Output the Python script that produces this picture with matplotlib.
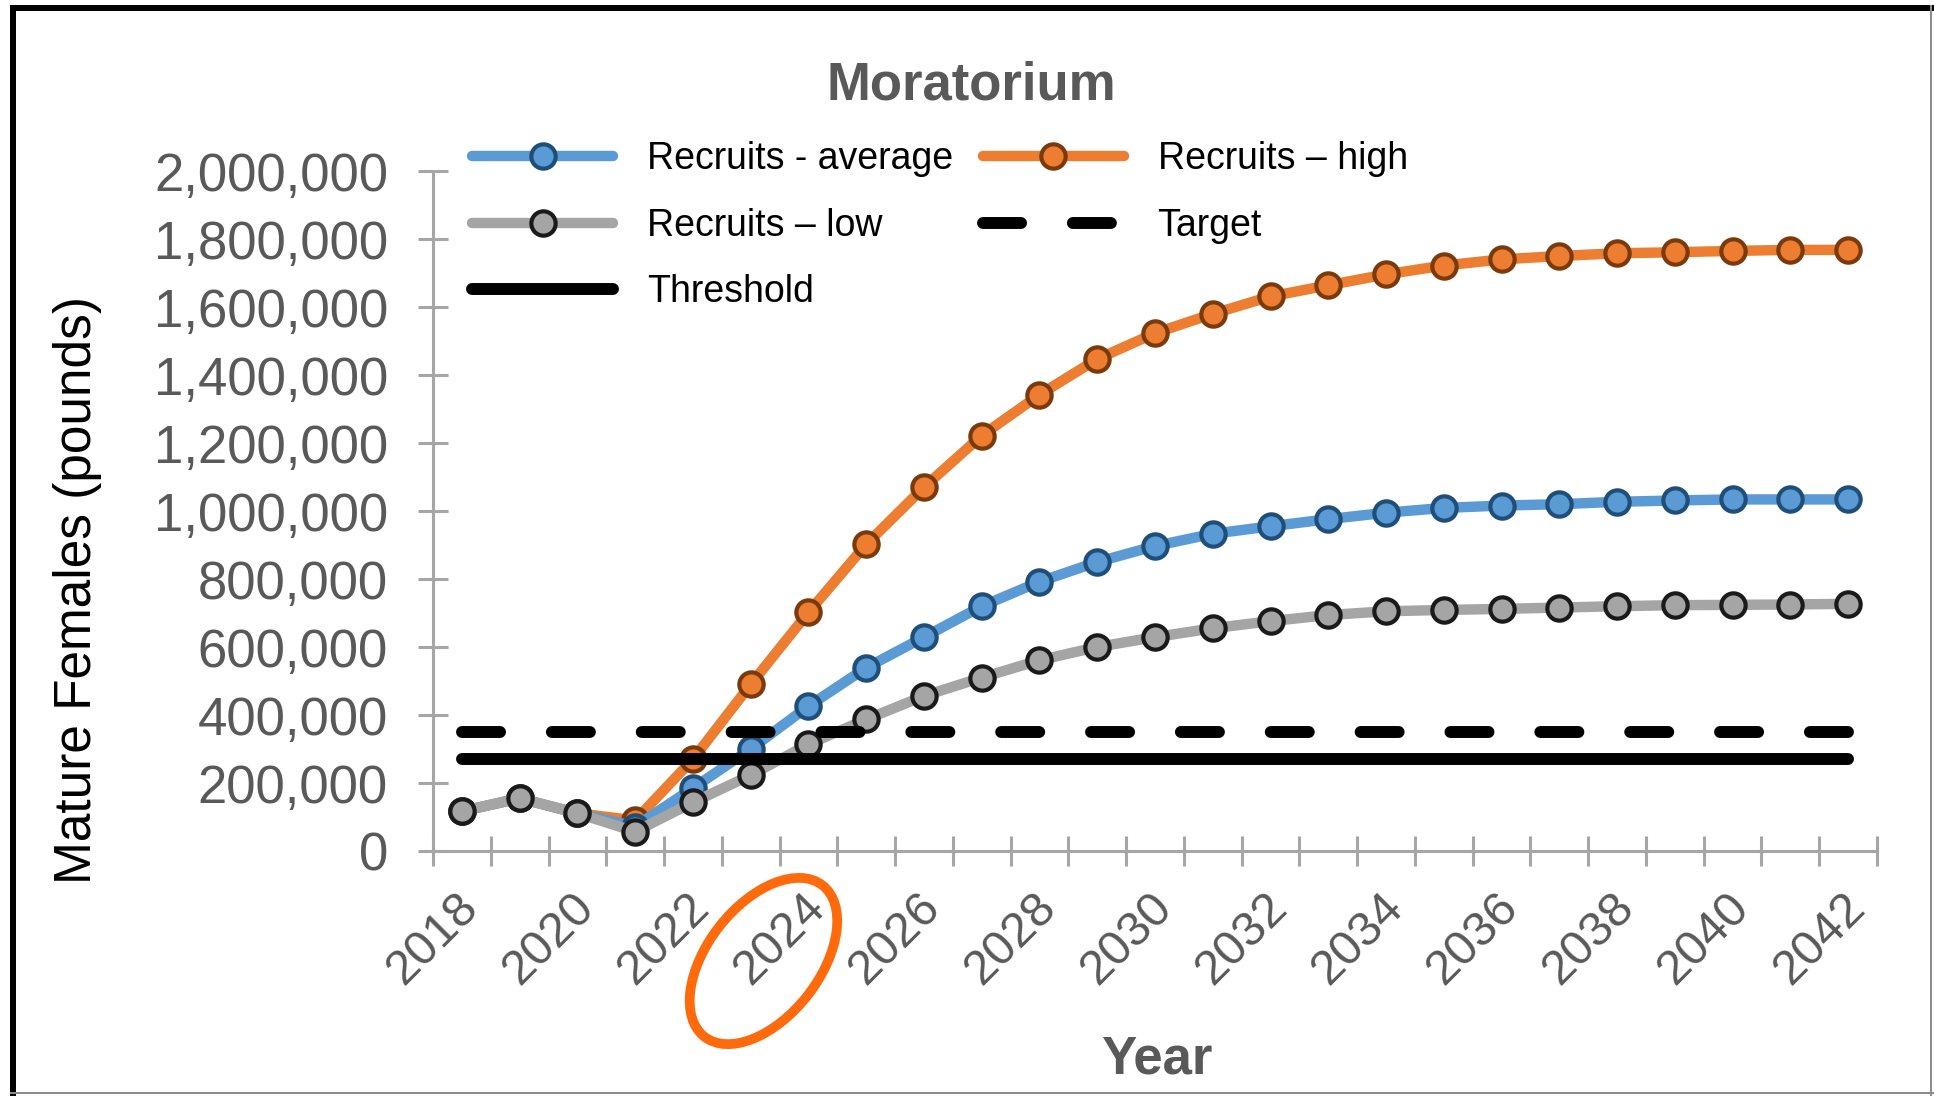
import numpy as np
import matplotlib
matplotlib.use("Agg")
import matplotlib.pyplot as plt
from matplotlib.patches import Ellipse, Rectangle
from matplotlib.transforms import IdentityTransform
from matplotlib.ticker import FuncFormatter, FixedLocator, NullFormatter

plt.rcParams['font.family'] = ['Liberation Sans', 'DejaVu Sans']
plt.rcParams['lines.scale_dashes'] = False

# ---------------- data ----------------
years = list(range(2018, 2043))
recruits_average = [117000, 155000, 111000, 72000, 185000, 300000, 426000, 539000,
                    629000, 720000, 792000, 850000, 897000, 933000, 955000, 976000,
                    995000, 1009000, 1016000, 1020000, 1027000, 1031000, 1034000,
                    1034000, 1034000]
recruits_high = [117000, 155000, 111000, 90000, 270000, 490000, 702000, 902000,
                 1070000, 1222000, 1342000, 1447000, 1523000, 1580000, 1631000,
                 1664000, 1696000, 1722000, 1740000, 1750000, 1758000, 1761000,
                 1765000, 1768000, 1768000]
recruits_low = [117000, 155000, 111000, 57000, 143000, 223000, 314000, 387000,
                456000, 510000, 561000, 600000, 629000, 655000, 676000, 694000,
                705000, 709000, 712000, 716000, 720000, 723000, 724000, 725000,
                727000]
target = 350000
threshold = 270000
y_ticks = [0, 200000, 400000, 600000, 800000, 1000000, 1200000, 1400000,
           1600000, 1800000, 2000000]
x_label_years = [2018, 2020, 2022, 2024, 2026, 2028, 2030, 2032, 2034, 2036,
                 2038, 2040, 2042]

title = "Moratorium"
xlabel = "Year"
ylabel = "Mature Females (pounds)"

# ---------------- figure ----------------
W, H = 1934, 1096
DPI = 100
fig = plt.figure(figsize=(W / DPI, H / DPI), dpi=DPI)
fig.patch.set_facecolor('white')

ax = fig.add_axes([433 / W, 245 / H, 1444 / W, 680 / H])

BLUE, ORANGE, GRAY = '#5B9BD5', '#ED7D31', '#A5A5A5'
LW = 7.5
MS = 17.5
MEW = 3
common = dict(lw=LW, marker='o', ms=MS, mew=MEW,
              solid_capstyle='round', solid_joinstyle='round')

ax.plot(years, recruits_high, color=ORANGE, mfc=ORANGE, mec='#7A3A0C',
        label='Recruits \u2013 high', zorder=3, **common)
ax.plot(years, recruits_average, color=BLUE, mfc=BLUE, mec='#1F4E79',
        label='Recruits - average', zorder=4, **common)
ax.plot(years, recruits_low, color=GRAY, mfc=GRAY, mec='#1a1a1a',
        label='Recruits \u2013 low', zorder=5, **common)

ax.plot([years[0], years[-1]], [target, target], color='black', lw=8.6,
        linestyle=(0, (27.4, 37.3)), dash_capstyle='round',
        label='Target', zorder=6)
ax.plot([years[0], years[-1]], [threshold, threshold], color='black', lw=8.6,
        solid_capstyle='round', label='Threshold', zorder=7)

ax.set_xlim(years[0] - 0.5, years[-1] + 0.5)
ax.set_ylim(0, 2000000)

AXC = '#A6A6A6'
for s in ['top', 'right']:
    ax.spines[s].set_visible(False)
for s in ['left', 'bottom']:
    ax.spines[s].set_color(AXC)
    ax.spines[s].set_linewidth(2.2)

ax.set_yticks(y_ticks)
ax.yaxis.set_major_formatter(FuncFormatter(lambda v, p: f"{int(v):,}"))
ax.tick_params(axis='y', direction='inout', length=21.6, width=2.2, color=AXC,
               labelsize=38, labelcolor='#595959', pad=21.6)

boundaries = [y - 0.5 for y in years] + [years[-1] + 0.5]
ax.xaxis.set_major_locator(FixedLocator(boundaries))
ax.xaxis.set_major_formatter(NullFormatter())
ax.tick_params(axis='x', which='major', direction='inout', length=21.6,
               width=2.2, color=AXC)

# rotated category labels (every second year)
for yr in x_label_years:
    ax.annotate(str(yr), xy=(yr, 0), xycoords=('data', 'axes fraction'),
                xytext=(7, -36), textcoords='offset points',
                rotation=45, rotation_mode='anchor', ha='right', va='center',
                fontsize=35, color='#595959', annotation_clip=False)

# titles
fig.text(971 / W, 1 - 85 / H, title, ha='center', va='center',
         fontsize=38, fontweight='bold', color='#595959')
fig.text(1157 / W, 1 - 1060 / H, xlabel, ha='center', va='center',
         fontsize=38, fontweight='bold', color='#595959')
fig.text(78 / W, 1 - 590 / H, ylabel, ha='center', va='center',
         rotation=90, fontsize=37, color='black')

# legend
handles, labels = ax.get_legend_handles_labels()
order = ['Recruits - average', 'Recruits \u2013 low', 'Threshold',
         'Recruits \u2013 high', 'Target']
hmap = dict(zip(labels, handles))
leg = ax.legend([hmap[k] for k in order], order, ncol=2,
                loc='upper left', bbox_to_anchor=(472 / W, 1 - 141 / H),
                bbox_transform=fig.transFigure, fontsize=27,
                handlelength=3.76, handletextpad=0.9, columnspacing=0.8,
                labelspacing=0.82, borderpad=0, borderaxespad=0,
                frameon=False)
leg.set_zorder(10)

# annotation ellipse around the 2024 label
xc = ax.transData.transform((2024, 0))[0] - 45
yc = ax.transAxes.transform((0, 0))[1] - 110
ell = Ellipse((xc, yc), width=192, height=112, angle=52, fill=False,
              edgecolor='#FF6A0D', lw=7, transform=IdentityTransform())
fig.add_artist(ell)

# figure border
fig.add_artist(Rectangle((10 / W, 0), 6 / W, 1 - 5 / H, transform=fig.transFigure,
                         facecolor='black', edgecolor='none'))
fig.add_artist(Rectangle((10 / W, 1 - 11 / H), 1 - 10 / W, 6 / H,
                         transform=fig.transFigure, facecolor='black',
                         edgecolor='none'))
fig.add_artist(Rectangle((1 - 4 / W, 0), 2 / W, 1 - 5 / H, transform=fig.transFigure,
                         facecolor='#8c8c8c', edgecolor='none'))
fig.add_artist(Rectangle((10 / W, 2 / H), 1 - 10 / W, 2 / H, transform=fig.transFigure,
                         facecolor='#8c8c8c', edgecolor='none'))

fig.savefig('out.png', dpi=DPI)
